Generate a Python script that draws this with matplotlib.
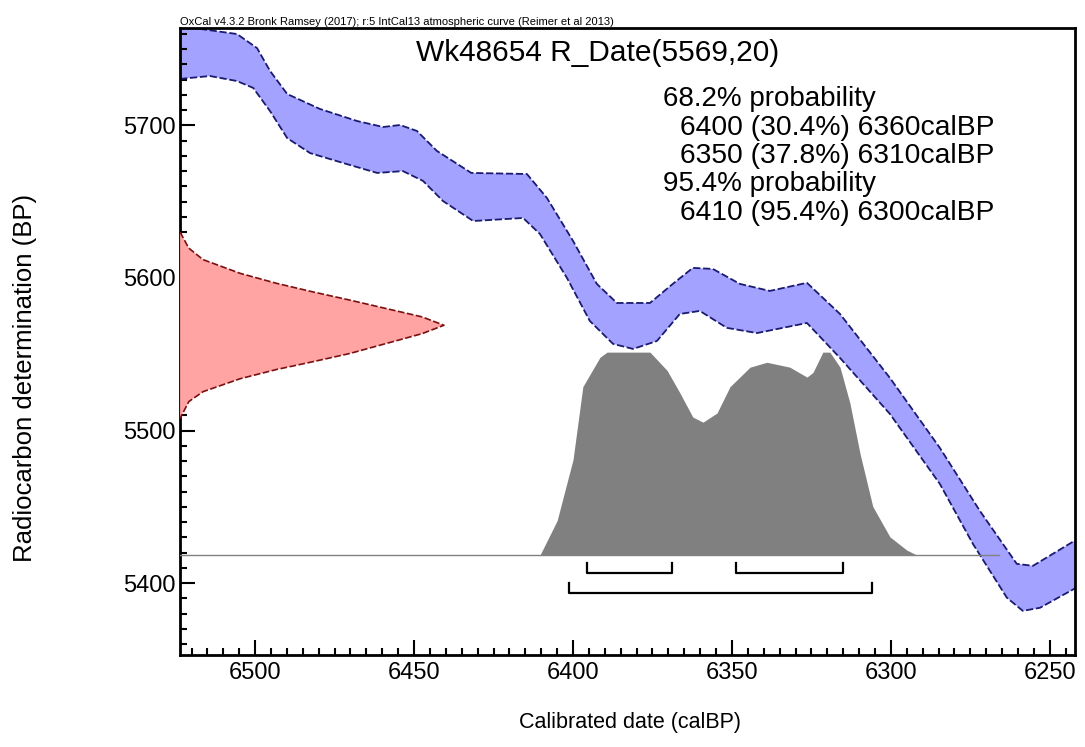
import matplotlib
matplotlib.use("Agg")
from matplotlib import pyplot as plt
from matplotlib.ticker import MultipleLocator

plt.rcParams['font.family'] = ['Liberation Sans', 'DejaVu Sans']

# IntCal13 band edges (calBP, BP)
upper_x = [6523.6, 6505.7, 6499.4, 6495.3, 6489.9, 6479.6, 6467.9, 6459.7, 6454.4, 6449.1,
           6442.8, 6432.0, 6414.5, 6408.2, 6400.0, 6392.5, 6386.2, 6375.8, 6368.6, 6362.3,
           6356.0, 6347.5, 6338.1, 6326.4, 6316.0, 6300.3, 6284.6, 6272.0, 6260.4, 6255.3, 6242.0]
upper_y = [5765.0, 5759.8, 5750.6, 5735.6, 5720.5, 5710.7, 5702.8, 5698.9, 5700.2, 5696.3,
           5683.2, 5668.8, 5668.1, 5652.4, 5624.3, 5596.1, 5583.6, 5583.6, 5596.1, 5606.6,
           5605.9, 5596.1, 5591.5, 5596.8, 5576.4, 5534.5, 5488.7, 5447.4, 5412.7, 5411.4, 5428.1]
lower_x = [6523.6, 6514.2, 6505.7, 6500.6, 6495.3, 6489.9, 6482.7, 6472.3, 6461.6, 6453.5,
           6447.2, 6440.9, 6431.4, 6415.7, 6410.4, 6401.9, 6394.7, 6387.4, 6381.1, 6373.6,
           6366.4, 6360.1, 6351.6, 6342.1, 6326.4, 6316.0, 6300.3, 6284.6, 6274.2, 6263.5,
           6258.5, 6253.1, 6242.0]
lower_y = [5730.4, 5732.3, 5729.0, 5724.5, 5709.3, 5691.6, 5681.8, 5675.3, 5668.8, 5670.0,
           5663.6, 5650.4, 5637.3, 5639.3, 5628.8, 5600.0, 5571.8, 5556.8, 5553.5, 5558.7,
           5576.4, 5578.4, 5567.3, 5563.9, 5570.5, 5547.6, 5510.9, 5465.1, 5425.8, 5390.5,
           5381.9, 5383.9, 5396.7]

# R_Date(5569,20) likelihood (BP, relative height)
rdate_bp = [5630, 5619.5, 5612, 5603, 5596.5, 5591, 5585.5, 5580, 5574.5, 5569,
            5563.5, 5557, 5550.5, 5545, 5540, 5534, 5525.5, 5519, 5508]
rdate_p = [0, 0.033, 0.087, 0.228, 0.365, 0.50, 0.643, 0.78, 0.917, 1.0,
           0.917, 0.78, 0.643, 0.50, 0.365, 0.228, 0.087, 0.033, 0]

# calibrated posterior (calBP, relative height)
cal_x = [6410.4, 6405.0, 6400.0, 6396.9, 6391.5, 6389.3, 6375.8, 6370.4, 6366.4, 6362.3,
         6359.1, 6354.7, 6350.6, 6344.3, 6339.0, 6331.8, 6326.4, 6324.5, 6321.4, 6319.2,
         6316.0, 6312.9, 6309.7, 6305.7, 6300.3, 6295.0, 6291.8]
cal_p = [0, 0.17, 0.47, 0.83, 0.975, 1.0, 1.0, 0.91, 0.80, 0.68,
         0.655, 0.70, 0.83, 0.926, 0.95, 0.926, 0.877, 0.90, 1.0, 1.0,
         0.926, 0.75, 0.50, 0.24, 0.09, 0.025, 0]

# hpd ranges drawn as brackets
ranges_68 = [(6395.6, 6368.9), (6348.7, 6315.1)]
ranges_95 = [(6401.3, 6306.0)]

head_lines = ["68.2% probability", "95.4% probability"]
range_lines = [["6400 (30.4%) 6360calBP", "6350 (37.8%) 6310calBP"],
               ["6410 (95.4%) 6300calBP"]]

xmin, xmax = 6523.6, 6242.0
ymin, ymax = 5352.9, 5763.5
base = 5418.4

fig = plt.figure(figsize=(10.85, 7.47), dpi=100)
ax = fig.add_axes([0.166, 0.123, 0.825, 0.839])

# calibration curve band
ax.fill(upper_x + lower_x[::-1], upper_y + lower_y[::-1], color='#a3a3ff', lw=0, zorder=1)
ax.plot(upper_x, upper_y, color='#1a1a70', lw=1.3, ls=(0, (4, 1.5)), zorder=2)
ax.plot(lower_x, lower_y, color='#1a1a70', lw=1.3, ls=(0, (4, 1.5)), zorder=2)

# radiocarbon date on y axis
rx = [xmin - p * 83 for p in rdate_p]
ax.fill(rx, rdate_bp, color='#ffa3a3', lw=0, zorder=3)
ax.plot(rx, rdate_bp, color='#7a1010', lw=1.2, ls=(0, (4, 1.5)), zorder=4)

# posterior
ax.fill_between(cal_x, base, [base + p * 133 for p in cal_p], color='#808080', lw=0, zorder=3)
ax.plot([xmin, 6266], [base, base], color='#808080', lw=1, zorder=3)

for a, b in ranges_68:
    ax.plot([a, a, b, b], [5413, 5406.6, 5406.6, 5413], color='black', lw=1.6, zorder=5)
for a, b in ranges_95:
    ax.plot([a, a, b, b], [5400, 5393.5, 5393.5, 5400], color='black', lw=1.6, zorder=5)

ax.set_xlim(xmin, xmax)
ax.set_ylim(ymin, ymax)
ax.xaxis.set_major_locator(MultipleLocator(50))
ax.xaxis.set_minor_locator(MultipleLocator(5))
ax.yaxis.set_major_locator(MultipleLocator(100))
ax.yaxis.set_minor_locator(MultipleLocator(10))
ax.tick_params(which='both', direction='in', top=False, right=False, labelsize=17, width=1.5)
ax.tick_params(which='major', length=11)
ax.tick_params(which='minor', length=5)
ax.tick_params(axis='x', pad=5)
for s in ax.spines.values():
    s.set_linewidth(2)

ax.set_xlabel("Calibrated date (calBP)", fontsize=15.5)
ax.set_ylabel("Radiocarbon determination (BP)", fontsize=18.5)
ax.xaxis.set_label_coords(0.503, -0.108)
ax.yaxis.set_label_coords(-0.173, 0.443)
ax.xaxis.label.set_va('center')
ax.yaxis.label.set_va('center')

ax.text(0.0, 1.002, "OxCal v4.3.2 Bronk Ramsey (2017); r:5 IntCal13 atmospheric curve (Reimer et al 2013)",
        transform=ax.transAxes, fontsize=8, ha='left', va='bottom')
ax.text(0.466, 0.96, "Wk48654 R_Date(5569,20)", transform=ax.transAxes, fontsize=21.5,
        ha='center', va='center', zorder=6)
row = 0
for head, ranges in zip(head_lines, range_lines):
    ax.text(0.540, 0.887 - row * 0.0452, head, transform=ax.transAxes, fontsize=20,
            ha='left', va='center', zorder=6)
    row += 1
    for r in ranges:
        ax.text(0.559, 0.887 - row * 0.0452, r, transform=ax.transAxes, fontsize=20.3,
                ha='left', va='center', zorder=6)
        row += 1

fig.savefig("out.png", dpi=100)
